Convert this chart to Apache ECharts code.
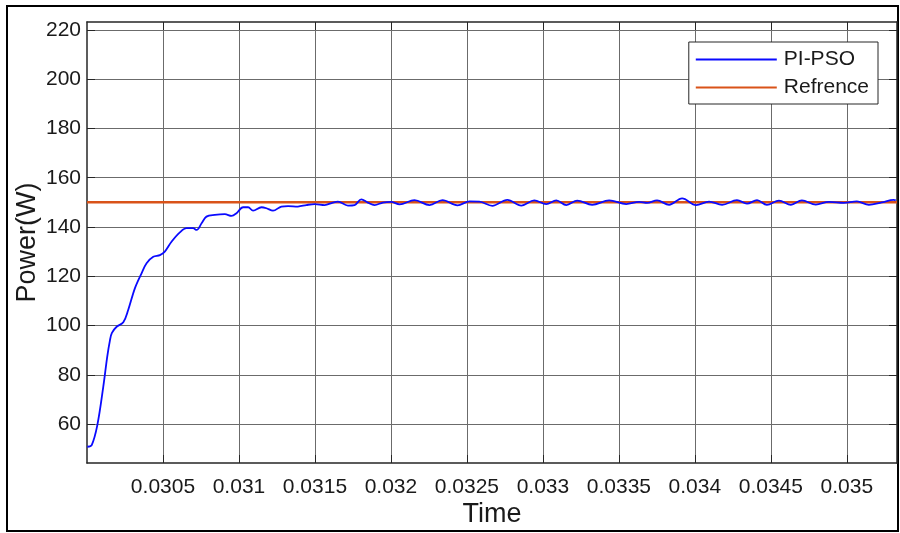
<!DOCTYPE html>
<html>
<head>
<meta charset="utf-8">
<script src="https://cdn.jsdelivr.net/npm/echarts@6/dist/echarts.min.js"></script>
<style>
  html, body { margin: 0; padding: 0; background: #fff; }
  #chart { width: 900px; height: 533px; }
</style>
</head>
<body>
<div id="chart"></div>
<script>
// Time axis (s) and power (W) of the PI-PSO controlled output
const timeS = [
  0.030002, 0.030031, 0.030068, 0.030107, 0.030133, 0.030151, 0.030164, 0.030195,
  0.030239, 0.030271, 0.030315, 0.030359, 0.030392, 0.030436, 0.030480, 0.030512,
  0.030556, 0.030611, 0.030655, 0.030698, 0.030721, 0.030754, 0.030786, 0.030841,
  0.030907, 0.030951, 0.030984, 0.031027, 0.031060, 0.031093, 0.031148, 0.031181,
  0.031224, 0.031279, 0.031323, 0.031388, 0.031443, 0.031498, 0.031564, 0.031618,
  0.031651, 0.031717, 0.031761, 0.031805, 0.031848, 0.031892, 0.031947, 0.032000,
  0.032057, 0.032155, 0.032254, 0.032339, 0.032438, 0.032517, 0.032582, 0.032667,
  0.032766, 0.032858, 0.032943, 0.033022, 0.033088, 0.033154, 0.033226, 0.033324,
  0.033436, 0.033548, 0.033633, 0.033686, 0.033751, 0.033830, 0.033916, 0.034008,
  0.034093, 0.034179, 0.034277, 0.034343, 0.034409, 0.034474, 0.034553, 0.034632,
  0.034704, 0.034796, 0.034882, 0.034980, 0.035066, 0.035145, 0.035230, 0.035309,
  0.035322
];
const piPsoW = [
  50.8, 51.5, 59.6, 75.1, 87.3, 94.0, 97.0, 99.5,
  101.3, 106.3, 115.1, 121.2, 125.3, 127.9, 128.6, 130.0,
  134.0, 137.8, 139.5, 139.5, 138.8, 141.5, 144.2, 144.9,
  145.2, 144.5, 145.6, 148.0, 148.0, 146.6, 148.0, 147.6,
  146.6, 148.3, 148.5, 148.3, 148.9, 149.3, 148.9, 149.9,
  150.3, 148.7, 148.9, 151.2, 149.9, 148.9, 149.9, 150.2,
  149.2, 150.9, 148.9, 150.9, 148.8, 150.4, 150.3, 148.6,
  151.0, 148.7, 150.8, 149.3, 150.8, 148.9, 150.7, 149.0,
  150.8, 149.3, 150.2, 149.8, 150.8, 149.0, 151.6, 148.9,
  150.3, 149.0, 150.9, 149.5, 150.9, 149.0, 150.7, 149.0,
  150.8, 149.1, 150.2, 149.8, 150.4, 149.0, 150.0, 151.0,
  150.8
];
// Reference power set-point
const refTime = [0.0300, 0.03533];
const refW = [150, 150];

// Axis limits and tick positions
const xLimits = [0.0300, 0.03533];
const yLimits = [44.2, 223.2];
const xTicks = [0.0305, 0.031, 0.0315, 0.032, 0.0325, 0.033, 0.0335, 0.034, 0.0345, 0.035];
const yTicks = [60, 80, 100, 120, 140, 160, 180, 200, 220];

const FONT = 'Liberation Sans, Arial, Helvetica, sans-serif';
const gridLine = { show: true, lineStyle: { color: '#6b6b6b', width: 1 } };
const boxLine = { show: true, onZero: false, lineStyle: { color: '#262626', width: 1.5 } };
const tickIn = (vals) => ({ show: true, inside: true, length: 8, customValues: vals, lineStyle: { color: '#262626', width: 1 } });

const chart = echarts.init(document.getElementById('chart'), null, { renderer: 'canvas' });

chart.setOption({
  animation: false,
  backgroundColor: '#ffffff',
  textStyle: { fontFamily: FONT },
  grid: { left: 87, right: 3, top: 22, bottom: 70, containLabel: false },
  graphic: [{
    type: 'rect',
    shape: { x: 7, y: 6, width: 891, height: 525 },
    style: { fill: 'none', stroke: '#000', lineWidth: 2 },
    silent: true, z: -1
  }],
  legend: {
    orient: 'vertical',
    right: 22, top: 42,
    itemWidth: 81, itemHeight: 2, itemGap: 7,
    padding: [7, 9, 6, 7],
    backgroundColor: '#ffffff',
    borderColor: '#262626', borderWidth: 1,
    textStyle: { fontFamily: FONT, fontSize: 21, color: '#1a1a1a', padding: [0, 0, 0, 2] },
    data: [
      { name: 'PI-PSO', icon: 'rect', itemStyle: { color: '#0a0aff' } },
      { name: 'Refrence', icon: 'rect', itemStyle: { color: '#d95319' } }
    ]
  },
  xAxis: [{
    type: 'value', min: xLimits[0], max: xLimits[1],
    name: 'Time', nameLocation: 'middle', nameGap: 38, nameMoveOverlap: false,
    nameTextStyle: { fontFamily: FONT, fontSize: 27, color: '#1a1a1a' },
    axisLine: boxLine, axisTick: tickIn(xTicks), splitLine: gridLine,
    axisLabel: {
      customValues: xTicks, margin: 14, fontSize: 21, color: '#1a1a1a', fontFamily: FONT,
      formatter: (v) => String(+v.toFixed(5))
    }
  }, {
    type: 'value', position: 'top', min: xLimits[0], max: xLimits[1],
    axisLine: boxLine, axisTick: tickIn(xTicks), axisLabel: { show: false }, splitLine: { show: false }
  }],
  yAxis: [{
    type: 'value', min: yLimits[0], max: yLimits[1],
    name: 'Power(W)', nameLocation: 'middle', nameGap: 46, nameMoveOverlap: false,
    nameTextStyle: { fontFamily: FONT, fontSize: 27, color: '#1a1a1a' },
    axisLine: boxLine, axisTick: tickIn(yTicks), splitLine: gridLine,
    axisLabel: { customValues: yTicks, margin: 6, fontSize: 21, color: '#1a1a1a', fontFamily: FONT }
  }, {
    type: 'value', position: 'right', min: yLimits[0], max: yLimits[1],
    axisLine: boxLine, axisTick: tickIn(yTicks), axisLabel: { show: false }, splitLine: { show: false }
  }],
  series: [{
    name: 'Refrence', type: 'line', xAxisIndex: 0, yAxisIndex: 0,
    data: refTime.map((t, i) => [t, refW[i]]),
    showSymbol: false, lineStyle: { color: '#d95319', width: 2.5 }, itemStyle: { color: '#d95319' }, z: 2
  }, {
    name: 'PI-PSO', type: 'line', xAxisIndex: 0, yAxisIndex: 0,
    data: timeS.map((t, i) => [t, piPsoW[i]]),
    smooth: 0.35, showSymbol: false, lineStyle: { color: '#0a0aff', width: 1.8 }, itemStyle: { color: '#0a0aff' }, z: 3
  }]
});
</script>
</body>
</html>
